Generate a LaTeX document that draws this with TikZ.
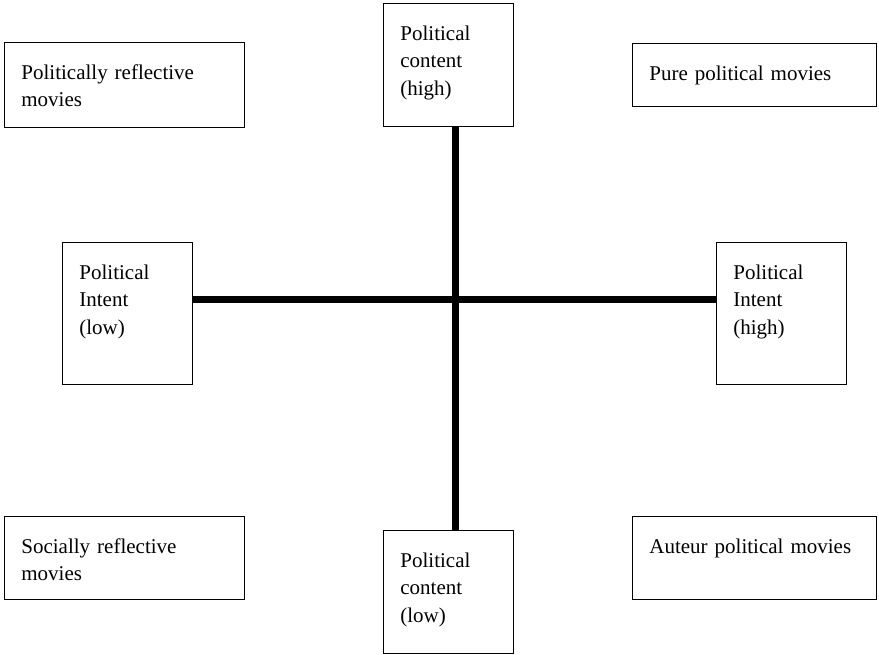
\documentclass[tikz,border=0pt]{standalone}
\usepackage{fontspec}
\setmainfont{Liberation Serif}
\usetikzlibrary{positioning, calc}

\begin{document}
\begin{tikzpicture}[
    x=1pt, y=-1pt,
    % boxes: text sits at the top left, box grows downward
    cell/.style={draw, line width=0.8pt, anchor=north west, align=left,
                 font=\fontsize{21}{27.5}\selectfont,
                 inner xsep=17pt, inner ysep=0pt, text height=37pt},
    axis/.style={line width=7pt, black}
]
\useasboundingbox (0,0) rectangle (879,654);

% corner boxes
\node[cell, text width=206pt, text depth=48pt] (polrefl) at (4,42)
  {Politically reflective\\movies};
\node[cell, text width=210pt, text depth=26pt] (pure) at (632,43)
  {Pure political movies};
\node[cell, text width=206pt, text depth=46pt] (socrefl) at (4,516)
  {Socially reflective\\movies};
\node[cell, text width=210pt, text depth=46pt] (auteur) at (632,516)
  {Auteur political movies};

% axis ends
\node[cell, text width=96pt, text depth=86pt] (conthigh) at (383,3)
  {Political\\content\\(high)};
\node[cell, text width=96pt, text depth=86pt] (contlow) at (383,530)
  {Political\\content\\(low)};
\node[cell, text width=96pt, text depth=105pt] (intlow) at (62,242)
  {Political\\Intent\\(low)};
\node[cell, text width=96pt, text depth=105pt] (inthigh) at (716,242)
  {Political\\Intent\\(high)};

% the two axes
\coordinate (mid) at (455,299);
\draw[axis] (conthigh.south -| mid) -- (contlow.north -| mid);
\draw[axis] (intlow.east |- mid) -- (inthigh.west |- mid);

\end{tikzpicture}
\end{document}
